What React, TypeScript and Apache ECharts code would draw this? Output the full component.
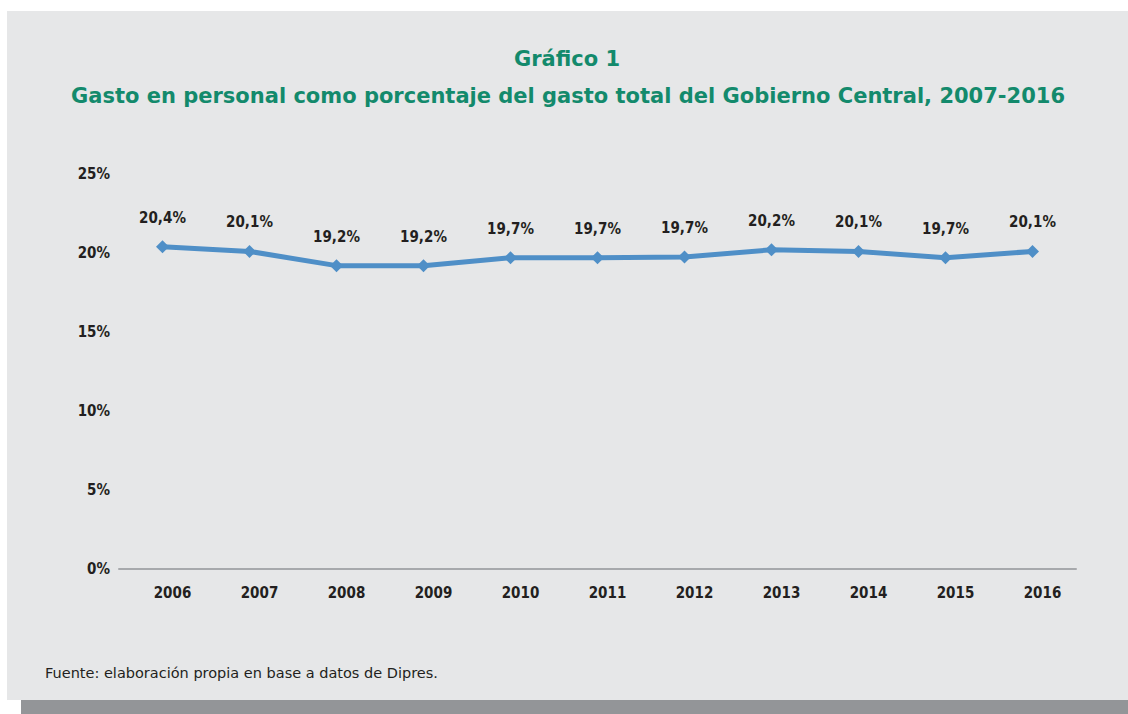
import React, { useEffect, useRef } from "react";
import * as echarts from "echarts";

const years = ["2006", "2007", "2008", "2009", "2010", "2011", "2012", "2013", "2014", "2015", "2016"];
const gastoPersonal = [20.4, 20.1, 19.2, 19.2, 19.7, 19.7, 19.75, 20.2, 20.1, 19.7, 20.1];
const labelValues = ["20,4%", "20,1%", "19,2%", "19,2%", "19,7%", "19,7%", "19,7%", "20,2%", "20,1%", "19,7%", "20,1%"];
const yTicks = [0, 5, 10, 15, 20, 25];

const titleLine1 = "Gráfico 1";
const titleLine2 = "Gasto en personal como porcentaje del gasto total del Gobierno Central, 2007-2016";
const source = "Fuente: elaboración propia en base a datos de Dipres.";

const condensed = "'DejaVu Sans Condensed', sans-serif";
const textColor = "#231f20";
const green = "#138a6c";

export default function App() {
  const ref = useRef<HTMLDivElement>(null);
  useEffect(() => {
    if (!ref.current) return;
    const chart = echarts.init(ref.current, null, { renderer: "svg" });
    chart.setOption({
      animation: false,
      backgroundColor: "#ffffff",
      graphic: [
        { type: "rect", z: -10, shape: { x: 7, y: 11, width: 1121, height: 689 }, style: { fill: "#e6e7e8" } },
        { type: "rect", z: -10, shape: { x: 21, y: 700, width: 1107, height: 14 }, style: { fill: "#939598" } },
        {
          type: "text", x: 567, y: 48,
          style: { text: titleLine1, fill: green, font: "bold 21px 'DejaVu Sans', Verdana, sans-serif", textAlign: "center" },
        },
        {
          type: "text", x: 568, y: 85,
          style: { text: titleLine2, fill: green, font: "bold 21px 'DejaVu Sans', Verdana, sans-serif", textAlign: "center" },
        },
        {
          type: "text", x: 45, y: 665,
          style: { text: source, fill: textColor, font: "14.5px 'DejaVu Sans', Verdana, sans-serif" },
        },
      ],
      grid: { left: 119, right: 52, top: 174, bottom: 145, containLabel: false },
      xAxis: {
        type: "category",
        data: years,
        boundaryGap: true,
        axisLine: { show: true, lineStyle: { color: "#a7a9ac", width: 2 } },
        axisTick: { show: false },
        axisLabel: {
          color: textColor, fontFamily: condensed, fontSize: 15, fontWeight: "bold",
          margin: 16, padding: [0, 0, 0, 20],
        },
      },
      yAxis: {
        type: "value",
        min: yTicks[0],
        max: yTicks[yTicks.length - 1],
        interval: 5,
        axisLine: { show: false },
        axisTick: { show: false },
        splitLine: { show: false },
        axisLabel: {
          color: textColor, fontFamily: condensed, fontSize: 15, fontWeight: "bold",
          margin: 9, formatter: "{value}%",
        },
      },
      series: [
        {
          type: "line",
          data: gastoPersonal,
          symbol: "diamond",
          symbolSize: 13,
          lineStyle: { color: "#4f8fc7", width: 5 },
          itemStyle: { color: "#4f8fc7" },
          label: {
            show: true,
            position: "top",
            distance: 15,
            color: textColor,
            fontFamily: condensed,
            fontSize: 15,
            fontWeight: "bold",
            formatter: (p: any) => labelValues[p.dataIndex],
          },
        },
      ],
    });
    return () => chart.dispose();
  }, []);
  return (
    <div
      ref={ref}
      style={{ position: "fixed", left: 0, top: 0, width: 1128, height: 714 }}
    />
  );
}
